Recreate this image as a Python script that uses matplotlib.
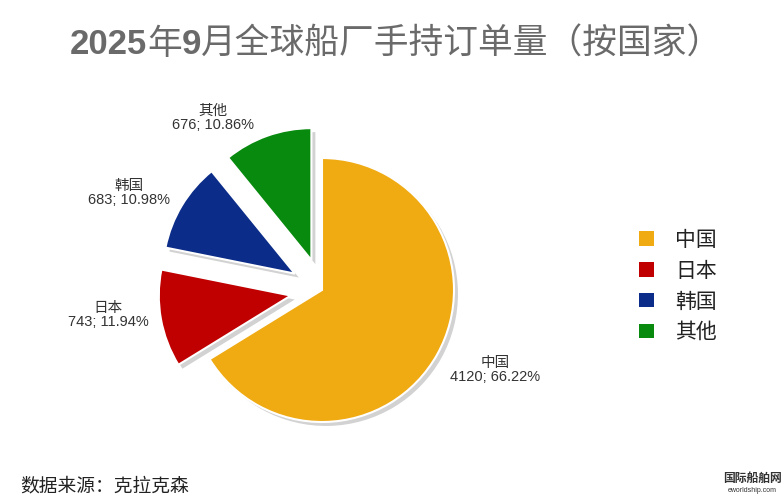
import matplotlib
matplotlib.use("Agg")
import matplotlib.pyplot as plt
from matplotlib.patches import Patch
import numpy as np

# ---------------- data ----------------
categories = ["中国", "日本", "韩国", "其他"]
values = [4120, 743, 683, 676]
percents = [66.22, 11.94, 10.98, 10.86]
title_parts = [("2025", "bold"), ("年", "normal"), ("9", "bold"),
               ("月全球船厂手持订单量（按国家）", "normal")]
source_text = "数据来源：克拉克森"

# ---------------- style ----------------
colors = ["#F0AA12", "#C00000", "#0B2C88", "#078A0E"]
explode = [0.0, 0.24, 0.24, 0.24]
shadow_color = "#D2D2D2"
label_xy = [(1.311, -0.606), (-1.621, -0.189), (-1.462, 0.735), (-0.826, 1.303)]

cjk = "Noto Sans CJK SC"
plt.rcParams["font.family"] = ["Liberation Sans", cjk, "DejaVu Sans"]

W, H = 784, 500
fig = plt.figure(figsize=(W / 100, H / 100), dpi=100)
fig.patch.set_facecolor("white")
ax = fig.add_axes([0, 0, 1, 1])

# shadow layer
ax.pie(values, colors=[shadow_color] * len(values), startangle=90,
       counterclock=False, explode=explode, center=(0.03, -0.03),
       wedgeprops=dict(linewidth=0))
# main pie
wedges, _ = ax.pie(values, colors=colors, startangle=90, counterclock=False,
                   explode=explode,
                   wedgeprops=dict(edgecolor="white", linewidth=1.5))

# center pie at pixel (322, 290) with radius 132 px
r_px = 132.0
cx, cy = 322.0, 290.0
ax.set_xlim(-cx / r_px, (W - cx) / r_px)
ax.set_ylim(-(H - cy) / r_px, cy / r_px)
ax.set_aspect("equal")
ax.axis("off")

# slice labels
for cat, v, p, (lx, ly) in zip(categories, values, percents, label_xy):
    ax.text(lx, ly, f"{cat}\n{v}; {p:.2f}%", ha="center", va="center",
            fontsize=10.5, color="#333333", linespacing=1.05,
            multialignment="center")

# legend
handles = [Patch(facecolor=c, edgecolor="none") for c in colors]
leg = fig.legend(handles, categories, loc="center left",
                 bbox_to_anchor=(639 / W, 1 - 286 / H), frameon=False,
                 prop={"family": cjk, "size": 15}, labelspacing=0.42,
                 handlelength=0.7, handleheight=0.7, handletextpad=1.05,
                 borderpad=0, borderaxespad=0)
for t in leg.get_texts():
    t.set_color("#222222")

# title: mixed weight pieces placed along a baseline
renderer = fig.canvas.get_renderer()
x = 70 / W
ybase = 1 - 54 / H
for txt, wt in title_parts:
    fam = ["Liberation Sans", cjk] if wt == "bold" else [cjk]
    t = fig.text(x, ybase, txt, fontsize=25, fontweight=wt, color="#6A6A6A",
                 ha="left", va="baseline", family=fam)
    bb = t.get_window_extent(renderer=renderer)
    x += bb.width / W

# source note
fig.text(20 / W, 1 - 486 / H, source_text, fontsize=13.5, color="#222222",
         ha="left", va="center", family=[cjk])

# watermark
fig.text(752 / W, 1 - 478 / H, "国际船舶网", fontsize=8.5, fontweight="bold",
         color="#333333", ha="center", va="center", family=[cjk])
fig.text(752 / W, 1 - 491 / H, "eworldship.com", fontsize=5, color="#333333",
         ha="center", va="center")

fig.savefig("out.png", dpi=100, facecolor="white")
